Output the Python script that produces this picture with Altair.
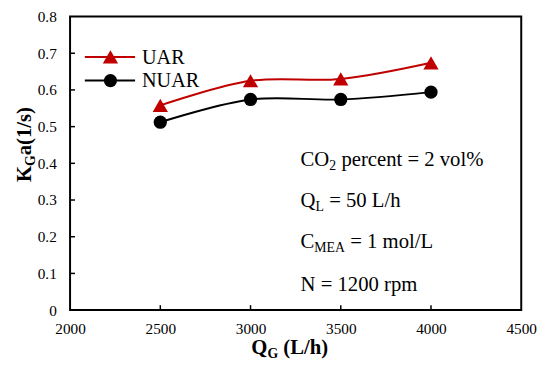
import altair as alt
import pandas as pd

# ---- data ----
qg = [2500, 3000, 3500, 4000]
uar = [0.558, 0.625, 0.630, 0.674]
nuar = [0.512, 0.574, 0.574, 0.594]
series_names = ["UAR", "NUAR"]
series_colors = ["#C00000", "#000000"]
series_shapes = ["triangle-up", "circle"]
x_ticks = [2000, 2500, 3000, 3500, 4000, 4500]
y_ticks = [0, 0.1, 0.2, 0.3, 0.4, 0.5, 0.6, 0.7, 0.8]

FONT = "Liberation Serif"
W, H = 458, 298

df = pd.DataFrame({"QG": qg * 2,
                   "KGa": uar + nuar,
                   "series": ["UAR"] * len(qg) + ["NUAR"] * len(qg)})

xs = alt.Scale(domain=[2000, 4500], nice=False, zero=False)
ys = alt.Scale(domain=[0, 0.8], nice=False)
cs = alt.Scale(domain=series_names, range=series_colors)
ss = alt.Scale(domain=series_names, range=series_shapes)

x_axis = alt.Axis(values=x_ticks, format="d", title=None, grid=False, domain=False,
                  tickSize=0, labelPadding=12, labelFont=FONT, labelFontSize=15.5,
                  labelColor="black", labelFlush=False, labelOverlap=False)
y_axis = alt.Axis(values=y_ticks, title=None, grid=False, domain=False, tickSize=0,
                  labelPadding=14, labelFont=FONT, labelFontSize=15.5, labelColor="black",
                  labelFlush=False, labelOverlap=False,
                  labelExpr="datum.value == 0 ? '0' : format(datum.value, '.1f')")

base = alt.Chart(df)
lines = base.mark_line(interpolate="catmull-rom", strokeWidth=2).encode(
    x=alt.X("QG:Q", scale=xs, axis=x_axis),
    y=alt.Y("KGa:Q", scale=ys, axis=y_axis),
    color=alt.Color("series:N", scale=cs, legend=None),
    detail="series:N",
)
points = base.mark_point(filled=True, opacity=1).encode(
    x=alt.X("QG:Q", scale=xs, axis=x_axis),
    y=alt.Y("KGa:Q", scale=ys, axis=y_axis),
    color=alt.Color("series:N", scale=cs, legend=None),
    shape=alt.Shape("series:N", scale=ss, legend=None),
    size=alt.condition("datum.series == 'UAR'", alt.value(240), alt.value(180)),
)

# inward tick marks
xt = alt.Chart(pd.DataFrame({"QG": x_ticks[1:-1]})).mark_rule(color="black", strokeWidth=1.5).encode(
    x=alt.X("QG:Q", scale=xs, axis=x_axis), y=alt.value(H), y2=alt.value(H - 5))
yt = alt.Chart(pd.DataFrame({"KGa": y_ticks[1:-1]})).mark_rule(color="black", strokeWidth=1.5).encode(
    y=alt.Y("KGa:Q", scale=ys, axis=y_axis), x=alt.value(0), x2=alt.value(5))

OX, OY = 71, 14  # plot origin in page coords


def txt(x, y, s, size, weight="normal", angle=0, color="black"):
    kw = dict(font=FONT, fontSize=size, align="left", baseline="alphabetic", color=color)
    if weight != "normal":
        kw["fontWeight"] = weight
    if angle:
        kw["angle"] = angle
    return alt.Chart(pd.DataFrame({"t": [s]})).mark_text(**kw).encode(
        x=alt.value(x - OX), y=alt.value(y - OY), text="t:N")


def legend_item(y, name, color, shape, size):
    one = pd.DataFrame({"a": [0]})
    ln = alt.Chart(one).mark_rule(color=color, strokeWidth=2).encode(
        x=alt.value(86 - OX), x2=alt.value(137 - OX), y=alt.value(y - OY))
    mk = alt.Chart(one).mark_point(filled=True, opacity=1, color=color, shape=shape, size=size).encode(
        x=alt.value(112 - OX), y=alt.value(y - OY))
    return [ln, mk, txt(144, y + 7, name, 20.5, color="black")]


layers = [lines, points, xt, yt]
layers += legend_item(55, "UAR", series_colors[0], series_shapes[0], 240)
layers += legend_item(79, "NUAR", series_colors[1], series_shapes[1], 180)

# annotations (with subscripts)
A = 21
S = 14
layers += [
    txt(305, 166, "CO", A), txt(334.2, 170, "2", S), txt(346.5, 166, "percent = 2 vol%", A),
    txt(305, 207, "Q", A), txt(320.2, 211, "L", S), txt(334, 207, "= 50 L/h", A),
    txt(305, 249, "C", A), txt(319, 253, "MEA", S), txt(355.4, 249, "= 1 mol/L", A),
    txt(305, 293, "N = 1200 rpm", A),
]

# axis titles
layers += [
    txt(255, 357, "Q", 21, "bold"), txt(271.3, 361, "G", 14, "bold"),
    txt(287.5, 357, "(L/h)", 21, "bold"),
    txt(31, 182, "K", 21, "bold", angle=270), txt(35, 165.7, "G", 14, "bold", angle=270),
    txt(31, 154.8, "a(1/s)", 21, "bold", angle=270),
]

chart = alt.layer(*layers).properties(
    width=W, height=H,
    autosize=alt.AutoSizeParams(type="none"),
    padding={"left": 63, "top": 6, "right": 16, "bottom": 50},
    background="white",
).configure_view(stroke="black", strokeWidth=2)

chart.save("out.html", embed_options={"renderer": "svg", "actions": False})
